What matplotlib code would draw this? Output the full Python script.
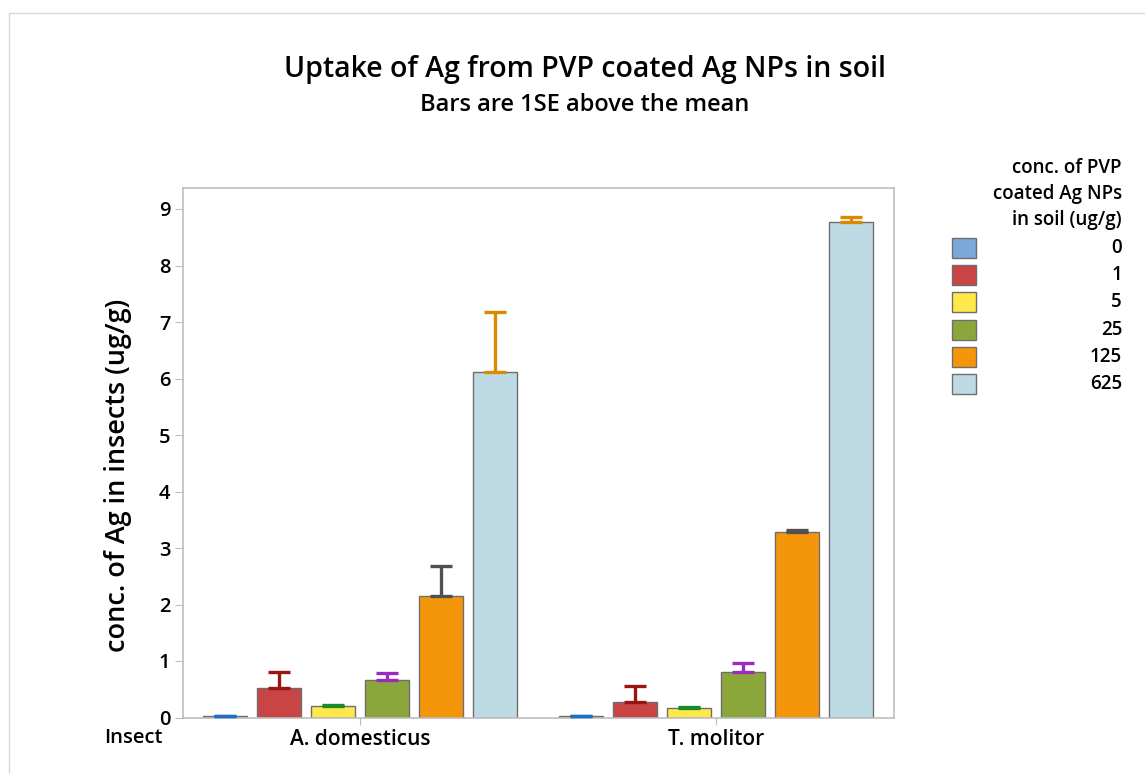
import matplotlib
matplotlib.use("Agg")
import matplotlib.pyplot as plt
from matplotlib.patches import Rectangle

plt.rcParams['font.family'] = ['Open Sans', 'DejaVu Sans']

# ── Datos ────────────────────────────────────────────────────────────────────
insectos = ["A. domesticus", "T. molitor"]
dosis = ["0", "1", "5", "25", "125", "625"]
media_domesticus = [0.02, 0.52, 0.20, 0.66, 2.15, 6.12]
se_domesticus = [0.01, 0.29, 0.02, 0.12, 0.54, 1.06]
media_molitor = [0.02, 0.27, 0.16, 0.80, 3.29, 8.77]
se_molitor = [0.01, 0.29, 0.02, 0.16, 0.02, 0.09]

# ── Colores ──────────────────────────────────────────────────────────────────
COL_BARRA = ["#7BA7DB", "#C94444", "#FFE84A", "#8BA63B", "#F5960A", "#BEDBE5"]
COL_ERROR = ["#1F6FC4", "#9B1414", "#1A8A2A", "#9B2BC0", "#505050", "#D98A00"]
BORDE = "#6E6E6E"
GRIS_EJE = "#BDBDBD"

W, H = 1145, 774
fig = plt.figure(figsize=(W / 100, H / 100), dpi=100)
ax = fig.add_axes([183 / W, 1 - 717.5 / H, (894 - 183) / W, (717.5 - 188) / H])

medias = [media_domesticus, media_molitor]
errores = [se_domesticus, se_molitor]
paso = 54 / 356
ancho = 44 / 356

# barras agrupadas por insecto, error solo hacia arriba (1 SE)
for g in range(len(insectos)):
    for i in range(len(dosis)):
        x = g + (i - 2.5) * paso
        ax.bar(x, medias[g][i], width=ancho, color=COL_BARRA[i],
               edgecolor=BORDE, linewidth=1, zorder=2)
        ax.errorbar(x, medias[g][i], yerr=[[0], [errores[g][i]]], fmt="none",
                    ecolor=COL_ERROR[i], elinewidth=2.4, capsize=8,
                    capthick=2.4, zorder=3)

ax.set_xlim((183 - 360) / 356, (894 - 360) / 356)
ax.set_ylim(0, (717.5 - 188) / 56.5)
ax.set_yticks(range(0, 10))
ax.set_xticks(range(len(insectos)))
ax.set_xticklabels(insectos, fontsize=15, fontweight="semibold")
for lab in ax.get_yticklabels():
    lab.set_fontsize(14.5)
    lab.set_fontweight("semibold")
ax.tick_params(axis="y", length=6, color=GRIS_EJE, pad=3)
ax.tick_params(axis="x", length=5, color=GRIS_EJE, pad=3)
for s in ax.spines.values():
    s.set_color(GRIS_EJE)
    s.set_linewidth(1.2)

# títulos
fig.text(585 / W, 1 - 70 / H, "Uptake of Ag from PVP coated Ag NPs in soil",
         ha="center", va="center", fontsize=20.5, fontweight="semibold")
fig.text(585 / W, 1 - 105 / H, "Bars are 1SE above the mean",
         ha="center", va="center", fontsize=17, fontweight="semibold")
fig.text(118 / W, 1 - 475 / H, "conc. of Ag in insects (ug/g)", rotation=90,
         ha="center", va="center", fontsize=19.5, fontweight="semibold")
fig.text(104 / W, 1 - 738 / H, "Insect", ha="left", va="center",
         fontsize=14.5, fontweight="semibold")

# leyenda
for k, linea in enumerate(["conc. of PVP", "coated Ag NPs", "in soil (ug/g)"]):
    fig.text(1122 / W, 1 - (168 + 26 * k) / H, linea, ha="right", va="center",
             fontsize=13.5, fontweight="semibold")
for i, d in enumerate(dosis):
    yc = 248 + 27.2 * i
    fig.add_artist(Rectangle((952 / W, 1 - (yc + 10) / H), 24 / W, 20 / H,
                             transform=fig.transFigure, facecolor=COL_BARRA[i],
                             edgecolor=BORDE, linewidth=1))
    fig.text(1122 / W, 1 - yc / H, d, ha="right", va="center",
             fontsize=13.5, fontweight="semibold")

# marco exterior
fig.add_artist(Rectangle((9 / W, -0.1), 1.2, 1 - 13 / H + 0.1,
                         transform=fig.transFigure, facecolor="none",
                         edgecolor="#DADADA", linewidth=1))

fig.savefig("out.png", dpi=100)
